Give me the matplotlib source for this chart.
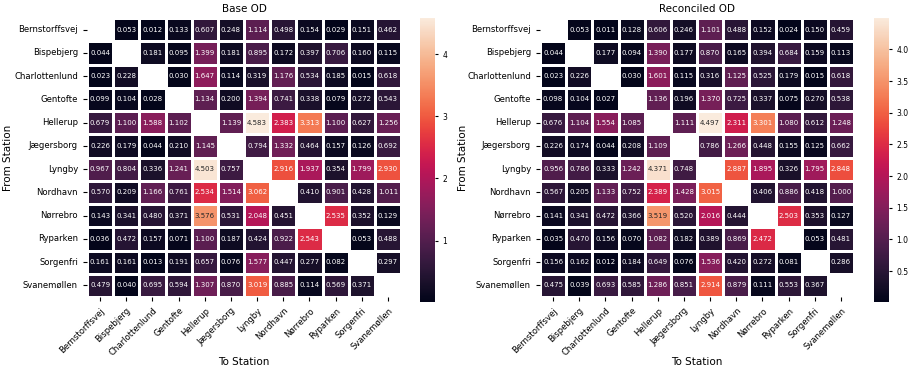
import numpy as np
import seaborn as sns
from matplotlib import pyplot as plt

stations = ["Bernstorffsvej", "Bispebjerg", "Charlottenlund", "Gentofte", "Hellerup",
            "Jægersborg", "Lyngby", "Nordhavn", "Nørrebro", "Ryparken", "Sorgenfri", "Svanemøllen"]
nan = np.nan

# Base OD matrix (rows = from station, cols = to station)
base_od = np.array([
    [nan, 0.053, 0.012, 0.133, 0.607, 0.248, 1.114, 0.498, 0.154, 0.029, 0.151, 0.462],
    [0.044, nan, 0.181, 0.095, 1.399, 0.181, 0.895, 0.172, 0.397, 0.706, 0.160, 0.115],
    [0.023, 0.228, nan, 0.030, 1.647, 0.114, 0.319, 1.176, 0.534, 0.185, 0.015, 0.618],
    [0.099, 0.104, 0.028, nan, 1.134, 0.200, 1.394, 0.741, 0.338, 0.079, 0.272, 0.543],
    [0.679, 1.100, 1.588, 1.102, nan, 1.139, 4.583, 2.383, 3.313, 1.100, 0.627, 1.256],
    [0.226, 0.179, 0.044, 0.210, 1.145, nan, 0.794, 1.332, 0.464, 0.157, 0.126, 0.692],
    [0.967, 0.804, 0.336, 1.241, 4.503, 0.757, nan, 2.916, 1.937, 0.354, 1.799, 2.930],
    [0.570, 0.209, 1.166, 0.761, 2.534, 1.514, 3.062, nan, 0.410, 0.901, 0.428, 1.011],
    [0.143, 0.341, 0.480, 0.371, 3.576, 0.531, 2.048, 0.451, nan, 2.535, 0.352, 0.129],
    [0.036, 0.472, 0.157, 0.071, 1.100, 0.187, 0.424, 0.922, 2.543, nan, 0.053, 0.488],
    [0.161, 0.161, 0.013, 0.191, 0.657, 0.076, 1.577, 0.447, 0.277, 0.082, nan, 0.297],
    [0.479, 0.040, 0.695, 0.594, 1.307, 0.870, 3.019, 0.885, 0.114, 0.569, 0.371, nan],
])

# Reconciled OD matrix
reconciled_od = np.array([
    [nan, 0.053, 0.011, 0.128, 0.606, 0.246, 1.101, 0.488, 0.152, 0.024, 0.150, 0.459],
    [0.044, nan, 0.177, 0.094, 1.390, 0.177, 0.870, 0.165, 0.394, 0.684, 0.159, 0.113],
    [0.023, 0.226, nan, 0.030, 1.601, 0.115, 0.316, 1.125, 0.525, 0.179, 0.015, 0.618],
    [0.098, 0.104, 0.027, nan, 1.136, 0.196, 1.370, 0.725, 0.337, 0.075, 0.270, 0.538],
    [0.676, 1.104, 1.554, 1.085, nan, 1.111, 4.497, 2.311, 3.301, 1.080, 0.612, 1.248],
    [0.226, 0.174, 0.044, 0.208, 1.109, nan, 0.786, 1.266, 0.448, 0.155, 0.125, 0.662],
    [0.956, 0.786, 0.333, 1.242, 4.371, 0.748, nan, 2.887, 1.895, 0.326, 1.795, 2.848],
    [0.567, 0.205, 1.133, 0.752, 2.389, 1.428, 3.015, nan, 0.406, 0.886, 0.418, 1.000],
    [0.141, 0.341, 0.472, 0.366, 3.519, 0.520, 2.016, 0.444, nan, 2.503, 0.353, 0.127],
    [0.035, 0.470, 0.156, 0.070, 1.082, 0.182, 0.389, 0.869, 2.472, nan, 0.053, 0.481],
    [0.156, 0.162, 0.012, 0.184, 0.649, 0.076, 1.536, 0.420, 0.272, 0.081, nan, 0.286],
    [0.475, 0.039, 0.693, 0.585, 1.286, 0.851, 2.914, 0.879, 0.111, 0.553, 0.367, nan],
])

titles = ["Base OD", "Reconciled OD"]

fig = plt.figure(figsize=(9.09, 3.74), dpi=100)
W, H = 909, 374

def box(x0, y0, x1, y1):
    # pixel box -> figure fraction [left, bottom, width, height]
    return [x0 / W, 1 - y1 / H, (x1 - x0) / W, (y1 - y0) / H]

layout = [
    (box(87, 18, 401, 297), box(420, 18, 435, 302), -0.252),
    (box(540, 18, 854, 297), box(874, 18, 889, 302), -0.245),
]

for mat, title, (ax_box, cb_box, ylab_x) in zip([base_od, reconciled_od], titles, layout):
    ax = fig.add_axes(ax_box)
    cax = fig.add_axes(cb_box)
    sns.heatmap(mat, ax=ax, cbar_ax=cax, cmap="rocket", annot=True, fmt=".3f",
                annot_kws={"size": 5}, linewidths=1, linecolor="white",
                xticklabels=stations, yticklabels=stations)
    ax.set_title(title, fontsize=7.5, pad=4)
    ax.set_xlabel("To Station", fontsize=7.5)
    ax.set_ylabel("From Station", fontsize=7.5)
    ax.xaxis.label.set_va("center")
    ax.xaxis.set_label_coords(0.5, -0.233)
    ax.yaxis.label.set_va("center")
    ax.yaxis.set_label_coords(ylab_x, 0.5)
    ax.tick_params(axis="both", labelsize=6.1, length=3, width=0.8)
    plt.setp(ax.get_xticklabels(), rotation=45, ha="right", rotation_mode="anchor")
    plt.setp(ax.get_yticklabels(), rotation=0)
    cax.tick_params(labelsize=5.5, length=2)
    for s in cax.spines.values():
        s.set_visible(False)

plt.savefig("out.png", dpi=100)
